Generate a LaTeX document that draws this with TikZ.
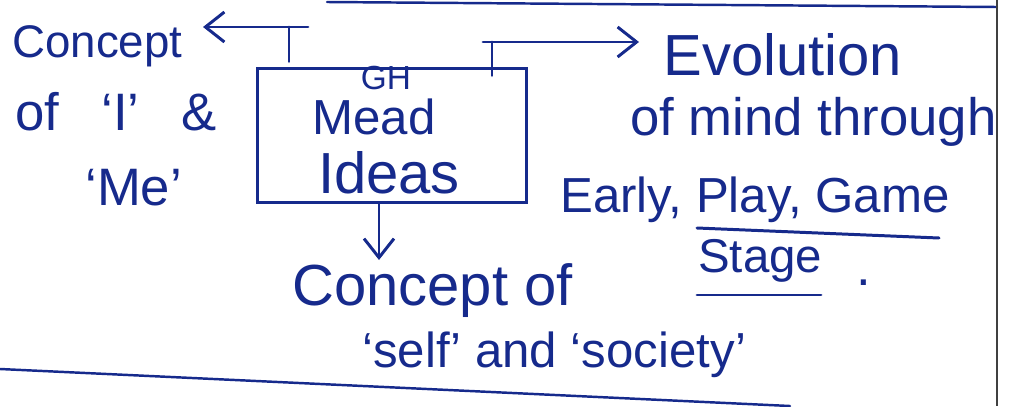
\documentclass[tikz,border=0pt]{standalone}
\usepackage{fontspec}
\setmainfont{Liberation Sans}
\usetikzlibrary{arrows.meta, calc}
\definecolor{ink}{RGB}{22,42,140}
\tikzset{
	hand/.style={text=ink, inner sep=0pt, font=\fontsize{#1}{#1}\selectfont},
	hand/.default=30,
	inkline/.style={draw=ink, line width=1.7pt, line cap=round},
	inkarrow/.style={inkline, -{Straight Barb[length=3.8mm,width=6mm]}},
	meadbox/.style={inkline, minimum width=5.4cm, minimum height=2.7cm, inner sep=0pt}
}

\begin{document}
\begin{tikzpicture}[x=0.02cm, y=-0.02cm]
\useasboundingbox (0,0) rectangle (1011,406);

% page rules
\draw[inkline, line width=1.4pt] (327,2) -- (997,7);
\draw[inkline, line width=1.4pt] (0,369) -- (790,406);
\draw[black!75, line width=1pt] (997,0) -- (997,406);

% the box
\node[meadbox] (mead) at (392,135.5) {};
\node[hand=19, anchor=base] (gh) at (386,89) {GH};
\node[hand=28, anchor=base] (meadtxt) at (374,134) {Mead};
\node[hand=33, anchor=base] (ideas) at (389,193) {Ideas};

% left
\node[hand=26, anchor=base west] (concept) at (12,57) {Concept};
\node[hand, anchor=base west] (ofime) at (15,130) {of\hspace{0.8em}‘I’\hspace{0.8em}\&};
\node[hand, anchor=base west] (me) at (85,205) {‘Me’};

% right
\node[hand=33, anchor=base west] (evol) at (663,75) {Evolution};
\node[hand, anchor=base west] (mind) at (630,135) {of mind through};
\node[hand=28, anchor=base west] (stages) at (560,212) {Early, Play, Game};
\node[hand=27, anchor=base west] (stage) at (698,272) {Stage};
\node[hand, anchor=base] (stop) at (864,285) {.};
\draw[inkline] (697,228) -- (939,238);
\draw[inkline] (697,295) -- (821,295);

% below
\node[hand=33, anchor=base west] (conceptof) at (292,305) {Concept of};
\node[hand=28, anchor=base west] (selfsoc) at (362,367) {‘self’ and ‘society’};

% arrows
\coordinate (iBend) at (289,27);
\coordinate (iTip) at (203,27);
\draw[inkline] (iBend |- mead.north) ++(0,-5) -- (iBend);
\draw[inkarrow] ($(iBend)+(19,0)$) -- (iTip);

\coordinate (evBend) at (492,42);
\coordinate (evTip) at (639,42);
\draw[inkline] (evBend |- mead.north) ++(0,9) -- (evBend);
\draw[inkarrow] ($(evBend)+(-9,0)$) -- (evTip);

\coordinate (selfTip) at (379,260);
\draw[inkarrow] (selfTip |- mead.south) -- (selfTip);
\end{tikzpicture}
\end{document}
